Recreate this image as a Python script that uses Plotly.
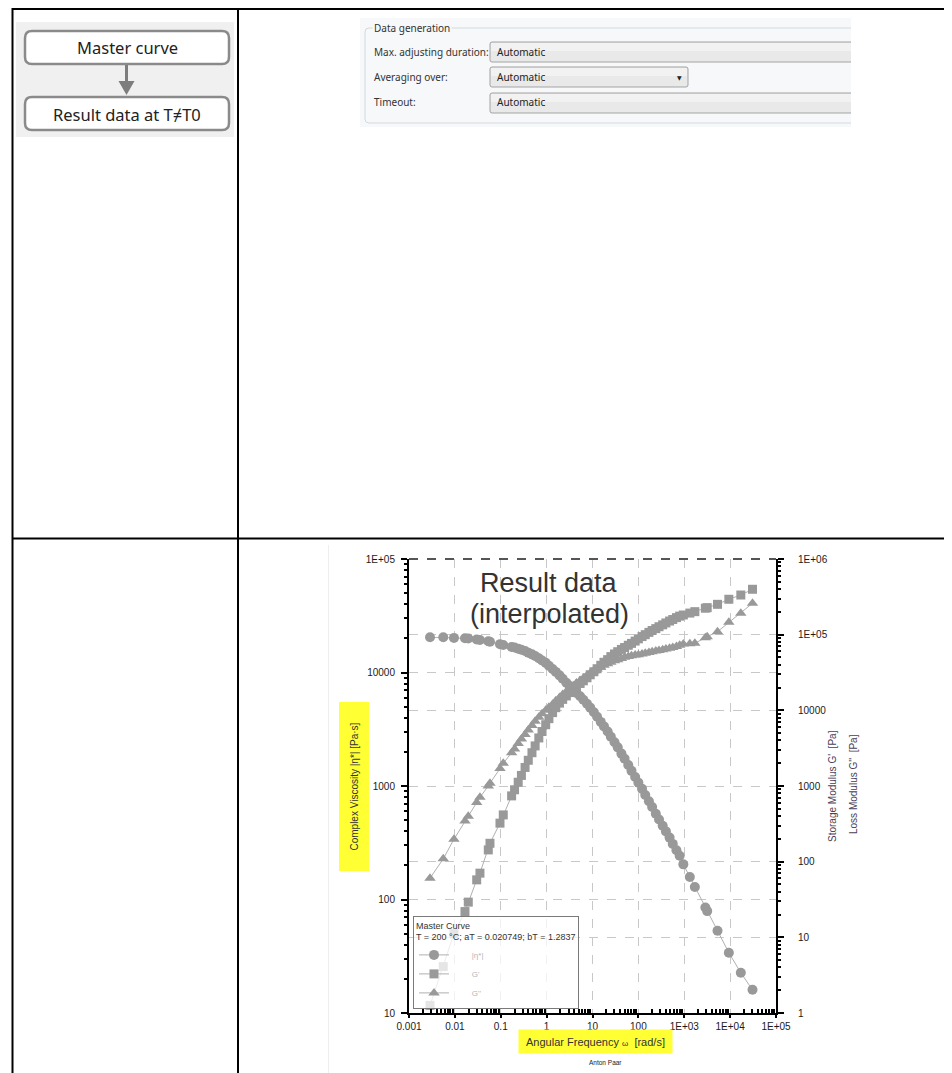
import plotly.graph_objects as go

# page body adds an 8 px margin, so the figure is drawn 8 px in from the window edge
OFF = 8
W, H = 952 - OFF, 1073 - OFF

# ---------------- data ----------------
omega = [0.00287, 0.00558, 0.00955, 0.0166, 0.0196, 0.0299, 0.0352, 0.0535, 0.0582, 0.0962, 0.1135, 0.1726,
         0.200, 0.240, 0.282, 0.339, 0.398, 0.479, 0.562, 0.676, 0.794, 0.955,
         1.122, 1.349, 1.585, 1.905, 2.239, 2.692, 3.162, 3.802, 4.467, 5.370,
         6.310, 7.586, 8.913, 10.72, 12.59, 15.14, 17.78, 21.38, 25.12, 30.20,
         35.48, 42.66, 50.12, 60.26, 70.79, 85.11, 100.0, 120.2, 141.3, 169.8,
         199.5, 239.9, 281.8, 338.8, 398.1, 478.6, 562.3, 676.1, 794.3, 955.0,
         1324, 1702, 2884, 3162, 5309, 9376, 17100, 30760]

eta_complex = [20420, 20420, 20180, 20040, 19950, 19500, 19360, 18840, 18660, 17780, 17500, 16790,
               16600, 16220, 15850, 15490, 14960, 14450, 13960, 13340, 12740, 12160,
               11480, 10720, 10120, 9440, 8810, 8130, 7590, 7010, 6610, 6170,
               5750, 5310, 4900, 4470, 4070, 3670, 3350, 3020, 2720, 2430,
               2190, 1930, 1740, 1530, 1360, 1200, 1070, 944, 832, 733,
               653, 569, 507, 447, 398, 351, 309, 272, 243, 204,
               158, 129, 85, 79, 53, 34, 22.6, 16.0]

g_storage = [1.26, 4.1, 11.2, 21.9, 29.2, 57.5, 70.5, 143, 175, 323, 415, 740,
             891, 1122, 1380, 1758, 2188, 2754, 3388, 4315, 5248, 6457,
             7762, 9333, 10840, 12450, 13960, 15490, 17180, 18840, 20650, 22650,
             24550, 26920, 29510, 32360, 35480, 39360, 43150, 46770, 51290, 55590,
             59570, 63830, 67610, 72440, 76740, 82220, 88100, 94410, 100000, 107200,
             113500, 120200, 127400, 134900, 142900, 151400, 158500, 167900, 175800, 182000,
             192800, 201400, 223900, 227500, 251800, 293800, 334200, 398100]

g_loss = [60.5, 109, 198, 346, 398, 604, 708, 1000, 1089, 1698, 1995, 2754,
          3090, 3631, 4169, 4786, 5495, 6310, 7161, 8128, 9016, 10000,
          10960, 12020, 13340, 14790, 16220, 17780, 19500, 21130, 22910, 24830,
          26610, 28840, 30900, 33110, 35080, 37150, 39360, 41210, 43150, 45190,
          46770, 48420, 50120, 51290, 52480, 53700, 54330, 55590, 56890, 58210,
          59570, 60950, 61660, 63100, 64570, 66070, 67610, 69980, 72440, 74990,
          75860, 76910, 91200, 94190, 109600, 145900, 191900, 260000]

series_names = ["|η*|", "G'", "G''"]

x_tickvals = [1e-3, 1e-2, 1e-1, 1, 10, 100, 1e3, 1e4, 1e5]
x_ticktext = ["0.001", "0.01", "0.1", "1", "10", "100", "1E+03", "1E+04", "1E+05"]
yl_tickvals = [10, 100, 1000, 10000, 100000]
yl_ticktext = ["10", "100", "1000", "10000", "1E+05"]
yr_tickvals = [1, 10, 100, 1000, 1e4, 1e5, 1e6]
yr_ticktext = ["1", "10", "100", "1000", "10000", "1E+05", "1E+06"]

legend_title = "Master Curve<br>T = 200 °C; aT = 0.020749; bT = 1.2837"

# ---------------- helpers (layout only, window pixel -> paper) ----------------
def px(x):
    return (x - OFF) / W


def py(y):
    return 1 - (y - OFF) / H


def minor_vals(e0, e1):
    return [m * 10 ** e for e in range(e0, e1) for m in range(2, 10)]


def rrect(x0, y0, x1, y1, r, open_right=False, **kw):
    rx, ry = r / W, r / H
    X0, X1, Y0, Y1 = px(x0), px(x1), py(y0), py(y1)
    if open_right:
        path = (f"M {X1},{Y0} L {X0+rx},{Y0} Q {X0},{Y0} {X0},{Y0-ry} "
                f"L {X0},{Y1+ry} Q {X0},{Y1} {X0+rx},{Y1} L {X1},{Y1}")
    else:
        path = (f"M {X0+rx},{Y0} L {X1-rx},{Y0} Q {X1},{Y0} {X1},{Y0-ry} "
                f"L {X1},{Y1+ry} Q {X1},{Y1} {X1-rx},{Y1} L {X0+rx},{Y1} "
                f"Q {X0},{Y1} {X0},{Y1+ry} L {X0},{Y0-ry} Q {X0},{Y0} {X0+rx},{Y0} Z")
    return dict(type="path", xref="paper", yref="paper", path=path, **kw)


def rect(x0, y0, x1, y1, **kw):
    return dict(type="rect", xref="paper", yref="paper", x0=px(x0), x1=px(x1),
                y0=py(y1), y1=py(y0), **kw)


def hline(x0, x1, y, **kw):
    return dict(type="line", xref="paper", yref="paper", x0=px(x0), x1=px(x1), y0=py(y), y1=py(y), **kw)


def vline(x, y0, y1, **kw):
    return dict(type="line", xref="paper", yref="paper", x0=px(x), x1=px(x), y0=py(y0), y1=py(y1), **kw)


def note(x, y, text, size, color="#222", family="Liberation Sans, Arial", xanchor="center", **kw):
    return dict(x=px(x), y=py(y), xref="paper", yref="paper", text=text, showarrow=False,
                xanchor=xanchor, yanchor="middle", font=dict(size=size, color=color, family=family), **kw)


# ---------------- figure ----------------
MARK = "#999999"
LINE = "#b0b0b0"

fig = go.Figure()
symbols = ["circle", "square", "triangle-up"]
sizes = [10, 9, 10]
ys = [eta_complex, g_storage, g_loss]
axes = ["y", "y2", "y2"]
for name, yv, sym, sz, ax in zip(series_names, ys, symbols, sizes, axes):
    fig.add_trace(go.Scatter(
        x=omega, y=yv, mode="lines+markers", name="        " + name, yaxis=ax,
        marker=dict(symbol=sym, size=sz, color=MARK, line=dict(width=0)),
        line=dict(color=LINE, width=1)))

axis_font = dict(size=10, color="#1a1a1a", family="Liberation Sans, Arial")
grid = dict(showgrid=True, gridcolor="#c8c8c8", griddash="dash", gridwidth=1)

fig.update_layout(
    width=W, height=H, margin=dict(l=0, r=0, t=0, b=0, pad=0, autoexpand=False),
    paper_bgcolor="white", plot_bgcolor="rgba(0,0,0,0)",
    font=dict(family="Liberation Sans, Arial"),
    xaxis=dict(type="log", range=[-3, 5], domain=[px(409), px(776)], anchor="y", automargin=False,
               tickmode="array", tickvals=x_tickvals, ticktext=x_ticktext, tickfont=axis_font,
               ticks="outside", ticklen=3, tickwidth=1.5, tickcolor="black",
               showline=True, linecolor="black", linewidth=2, zeroline=False,
               minor=dict(tickvals=minor_vals(-3, 5), ticks="inside", ticklen=4, tickcolor="black", showgrid=False),
               ticklabelstandoff=0, **grid),
    yaxis=dict(type="log", range=[1, 5], domain=[py(1013), py(559)], anchor="x", side="left", automargin=False,
               tickmode="array", tickvals=yl_tickvals, ticktext=yl_ticktext, tickfont=axis_font,
               ticks="outside", ticklen=6, tickwidth=1.5, tickcolor="black",
               showline=True, linecolor="black", linewidth=2, zeroline=False,
               minor=dict(tickvals=minor_vals(1, 5), ticks="outside", ticklen=3, tickcolor="black", showgrid=False),
               ticklabelstandoff=4, **grid),
    yaxis2=dict(type="log", range=[0, 6], overlaying="y", anchor="x", side="right", automargin=False,
                tickmode="array", tickvals=yr_tickvals, ticktext=yr_ticktext, tickfont=axis_font,
                ticks="outside", ticklen=6, tickwidth=1.5, tickcolor="black",
                showline=True, linecolor="black", linewidth=2, zeroline=False,
                minor=dict(tickvals=minor_vals(0, 6), ticks="outside", ticklen=3, tickcolor="black", showgrid=False),
                ticklabelstandoff=12, **grid),
    showlegend=True,
    legend=dict(x=px(413), y=py(1009), xanchor="left", yanchor="bottom",
                bgcolor="rgba(255,255,255,0.75)", bordercolor="#7a7a7a", borderwidth=1,
                font=dict(size=8, color="#b5b5b5", family="Liberation Sans, Arial"),
                title=dict(text=legend_title, font=dict(size=9, color="#333", family="Liberation Sans, Arial")),
                tracegroupgap=0, itemclick=False),
)

shapes = []
# table lines
shapes += [hline(12, 952, 9, line=dict(color="black", width=2)),
           hline(12, 952, 538.5, line=dict(color="black", width=2)),
           vline(12.5, 8, 1073, line=dict(color="black", width=2)),
           vline(238, 8, 1073, line=dict(color="black", width=2))]
# flowchart screenshot
shapes += [rect(16, 22, 234, 137, fillcolor="#f0f0f0", line=dict(width=0)),
           rrect(25, 31, 229, 64, 7, fillcolor="white", line=dict(color="#8a8a8a", width=2.5)),
           rrect(25, 97, 229, 130, 7, fillcolor="white", line=dict(color="#8a8a8a", width=2.5)),
           vline(126.5, 65, 83, line=dict(color="#7d7d7d", width=3)),
           dict(type="path", xref="paper", yref="paper",
                path=f"M {px(118.5)},{py(81)} L {px(134.5)},{py(81)} L {px(126.5)},{py(95)} Z",
                fillcolor="#7d7d7d", line=dict(width=0))]
# data generation screenshot
shapes += [rect(360, 18, 851, 127, fillcolor="#f7f8f9", line=dict(width=0)),
           rrect(365, 28, 851, 123, 4, open_right=True, fillcolor="rgba(0,0,0,0)", line=dict(color="#d3d9de", width=1)),
           rrect(490, 42, 851, 62, 2, open_right=True, fillcolor="#e9e9e9", line=dict(color="#a3a3a3", width=1)),
           rrect(490, 67, 688, 87, 2, fillcolor="#e9e9e9", line=dict(color="#a3a3a3", width=1)),
           rrect(490, 93, 851, 113, 2, open_right=True, fillcolor="#e9e9e9", line=dict(color="#a3a3a3", width=1)),
           rect(491, 43, 851, 51, fillcolor="#f2f2f2", line=dict(width=0)),
           rect(491, 68, 687, 76, fillcolor="#f2f2f2", line=dict(width=0)),
           rect(491, 94, 851, 102, fillcolor="#f2f2f2", line=dict(width=0))]
# chart screenshot edge and top frame
shapes += [vline(328.5, 545, 1073, line=dict(color="#eeeeee", width=1)),
           hline(409, 776, 559, line=dict(color="#555555", width=2, dash="dash"))]

UI = "Noto Sans, Open Sans"
annotations = [
    note(127, 48, "Master curve", 16.5, color="#222", family=UI),
    note(127, 114, "Result data at T≠T0", 16.5, color="#222", family=UI),
    note(372, 28, "Data generation", 10, color="#333", family=UI, xanchor="left", bgcolor="#f7f8f9"),
    note(372, 52, "Max. adjusting duration:", 10, color="#333", family=UI, xanchor="left"),
    note(372, 77, "Averaging over:", 10, color="#333", family=UI, xanchor="left"),
    note(372, 102, "Timeout:", 10, color="#333", family=UI, xanchor="left"),
    note(495, 52, "Automatic", 10, color="#222", family=UI, xanchor="left"),
    note(495, 77, "Automatic", 10, color="#222", family=UI, xanchor="left"),
    note(495, 102, "Automatic", 10, color="#222", family=UI, xanchor="left"),
    note(679, 77, "▼", 6, color="#222", family="DejaVu Sans"),
    note(549, 583, "Result data", 27, color="#333"),
    note(549, 614, "(interpolated)", 27, color="#333"),
    note(353.5, 787, "Complex Viscosity |η*| [Pa·s]", 10, color="#333", textangle=-90,
         bgcolor="#ffff33", width=168, height=29, borderpad=0),
    note(595.5, 1041.5, "Angular Frequency <span style='font-size:8px'>ω</span>  [rad/s]", 11, color="#333",
         bgcolor="#ffff33", width=153, height=23, borderpad=0),
    note(605, 1062, "Anton Paar", 6.5, color="#222"),
    note(832, 786, "Storage Modulus G'  [Pa]", 10, color="#4a4058", textangle=-90),
    note(853, 784, "Loss Modulus G''  [Pa]", 10, color="#4a4058", textangle=-90),
]

fig.update_layout(shapes=shapes, annotations=annotations)
fig.write_html("out.html")
